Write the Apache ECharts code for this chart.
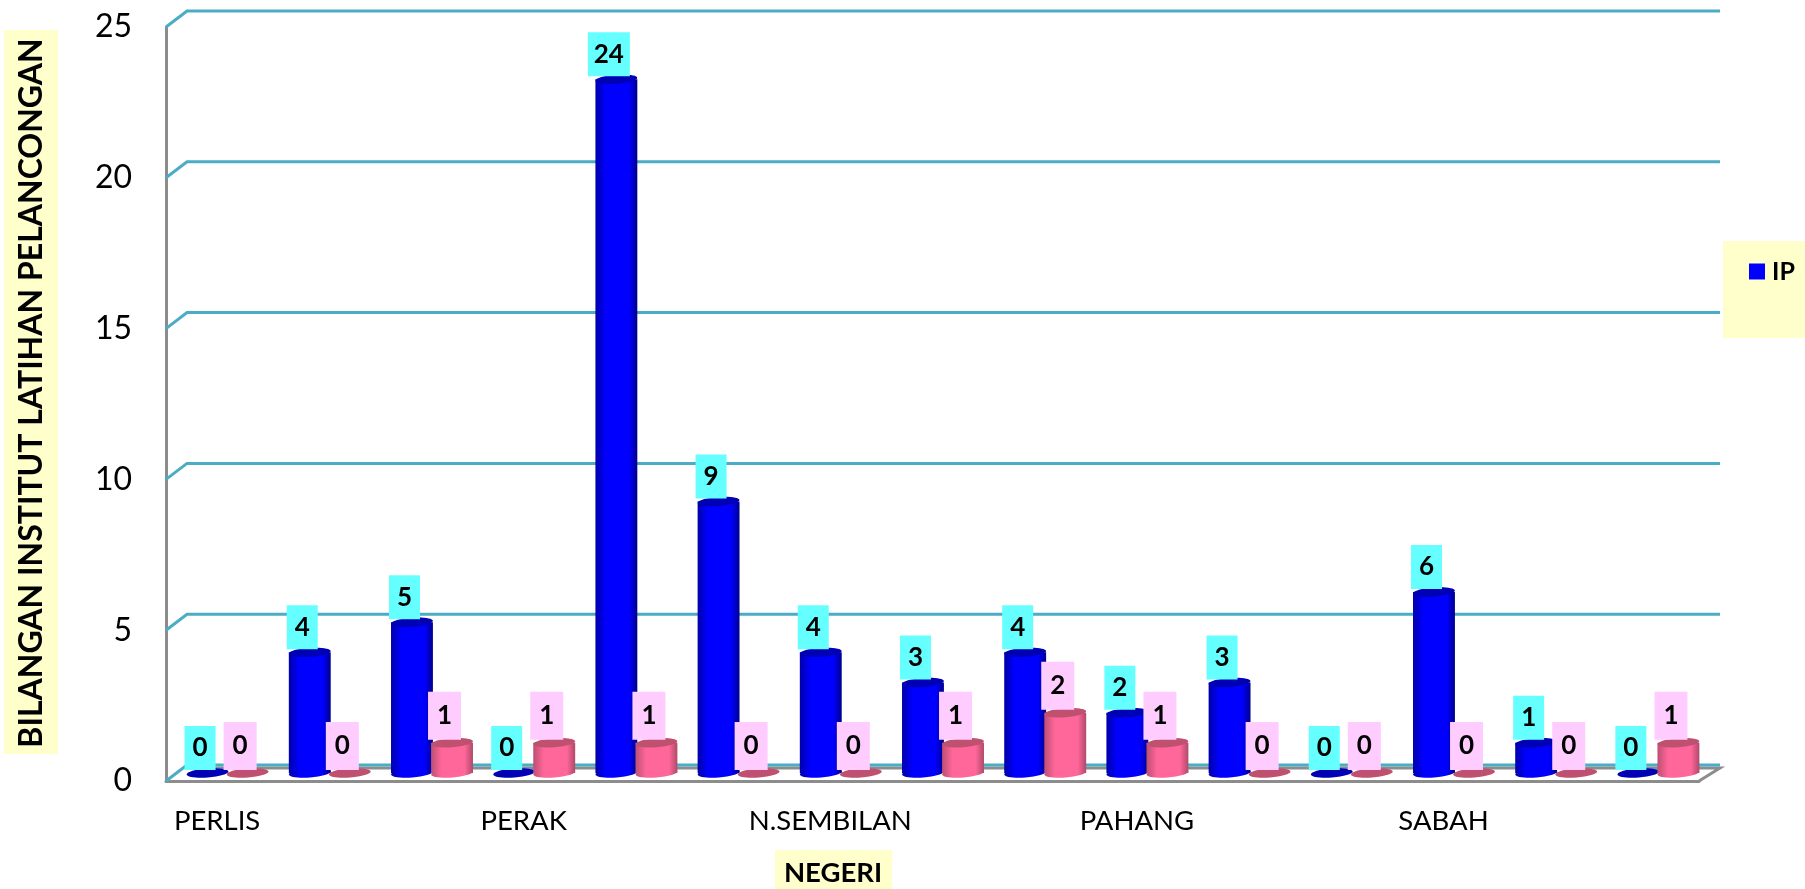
<!DOCTYPE html>
<html>
<head>
<meta charset="utf-8">
<style>
  html, body { margin: 0; background: #fff; }
  #chart { width: 1805px; height: 889px; }
</style>
<script src="https://cdn.jsdelivr.net/npm/echarts@6/dist/echarts.min.js"></script>
</head>
<body>
<div id="chart"></div>
<script>
var categories = ['PERLIS', '', '', 'PERAK', '', '', 'N.SEMBILAN', '', '', 'PAHANG', '', '', 'SABAH', '', ''];
var ipValues = [0, 4, 5, 0, 23, 9, 4, 3, 4, 2, 3, 0, 6, 1, 0];
var ipLabels = ['0', '4', '5', '0', '24', '9', '4', '3', '4', '2', '3', '0', '6', '1', '0'];
var otherValues = [0, 0, 1, 1, 1, 0, 0, 1, 2, 1, 0, 0, 0, 0, 1];
var yTicks = [0, 5, 10, 15, 20, 25];

var FONT = 'Lato, sans-serif';
var DEPTH_X = 21, DEPTH_Y = 16;

var blueBody = new echarts.graphic.LinearGradient(0, 0, 1, 0, [
  { offset: 0, color: '#0000A8' }, { offset: 0.25, color: '#0000FF' },
  { offset: 0.8, color: '#0000FF' }, { offset: 1, color: '#00008C' }
]);
var pinkBody = new echarts.graphic.LinearGradient(0, 0, 1, 0, [
  { offset: 0, color: '#BC4F72' }, { offset: 0.25, color: '#FF6699' },
  { offset: 0.8, color: '#FF6699' }, { offset: 1, color: '#AE4A6A' }
]);

// back wall lines with the diagonal going to the front axis
function renderFrame(params, api) {
  var cs = params.coordSys;
  var y = api.coord([0, api.value(1)])[1];
  var left = cs.x, right = cs.x + cs.width;
  var children = [];
  if (api.value(1) === 0) {
    children.push({
      type: 'polyline',
      shape: { points: [[left + DEPTH_X, y - DEPTH_Y + 3], [right + DEPTH_X, y - DEPTH_Y + 3], [right, y]] },
      style: { fill: null, stroke: '#8C8C8C', lineWidth: 3 }
    });
  }
  children.push({
    type: 'polyline',
    shape: { points: [[left, y], [left + DEPTH_X, y - DEPTH_Y], [right + DEPTH_X, y - DEPTH_Y]] },
    style: { fill: null, stroke: '#4BACC6', lineWidth: 3 }
  });
  return { type: 'group', children: children };
}

function cylinder(opt) {
  return function (params, api) {
    var v = api.value(1);
    var top = api.coord([api.value(0), v]);
    var base = api.coord([api.value(0), 0]);
    var band = api.size([1, 0])[0];
    var rx = band * 0.205;
    var cx = top[0] + opt.side * band * 0.196;
    var tilt = 0.07;
    var children = [];
    if (v > 0) {
      children.push({
        type: 'ellipse', z2: opt.z,
        shape: { cx: cx, cy: base[1], rx: rx, ry: 4.5 }, originX: cx, originY: base[1], rotation: tilt,
        style: { fill: opt.body }
      });
      children.push({
        type: 'rect', z2: opt.z,
        shape: { x: cx - rx, y: top[1], width: rx * 2, height: base[1] - top[1] },
        style: { fill: opt.body }
      });
    }
    children.push({
      type: 'ellipse', z2: opt.z,
      shape: { cx: cx, cy: top[1], rx: rx, ry: 4.5 }, originX: cx, originY: top[1], rotation: tilt,
      style: { fill: opt.cap }
    });
    var text = opt.labels ? opt.labels[params.dataIndex] : String(v);
    var boxW = text.length > 1 ? 42 : opt.boxW;
    var boxX = cx - 7.5 - boxW / 2;
    var boxY = top[1] - 3 - opt.boxH;
    children.push({
      type: 'rect', z2: 20,
      shape: { x: boxX, y: boxY, width: boxW, height: opt.boxH },
      style: { fill: opt.boxFill }
    });
    children.push({
      type: 'text', z2: 21, x: boxX + boxW / 2, y: boxY + opt.boxH / 2,
      style: { text: text, fill: '#000', align: 'center', verticalAlign: 'middle', font: 'bold 26px ' + FONT }
    });
    return { type: 'group', children: children };
  };
}

var chart = echarts.init(document.getElementById('chart'), null, { renderer: 'canvas' });
chart.setOption({
  animation: false,
  backgroundColor: '#fff',
  legend: {
    data: [{ name: 'IP', icon: 'rect', itemStyle: { color: '#0000FF' } }],
    selectedMode: false,
    left: 1723,
    top: 241,
    padding: [18, 10, 54, 26],
    itemWidth: 16,
    itemHeight: 16,
    itemGap: 0,
    backgroundColor: '#FFFFCC',
    textStyle: { fontFamily: FONT, fontWeight: 'bold', fontSize: 25, color: '#000', padding: [0, 0, 0, 2] }
  },
  grid: [
    { left: 166, top: 27, width: 1533, height: 754 },
    { left: 176.5, top: 19, width: 1533, height: 754 }
  ],
  xAxis: [
    {
      type: 'category', gridIndex: 0, data: categories,
      axisLine: { lineStyle: { color: '#8C8C8C', width: 3 } },
      axisTick: { show: false },
      axisLabel: { interval: 0, margin: 26, fontFamily: FONT, fontSize: 27.5, color: '#000' }
    },
    { type: 'category', gridIndex: 1, data: categories, show: false }
  ],
  yAxis: [
    {
      type: 'value', gridIndex: 0, min: 0, max: 25, interval: 5,
      axisLine: { show: true, lineStyle: { color: '#8C8C8C', width: 3 } },
      axisTick: { show: false },
      splitLine: { show: false },
      axisLabel: { margin: 34, fontFamily: FONT, fontSize: 32, color: '#000' }
    },
    { type: 'value', gridIndex: 1, min: 0, max: 25, interval: 5, show: false }
  ],
  graphic: [
    { type: 'rect', left: 4, top: 30, shape: { width: 54, height: 724 }, style: { fill: '#FFFFCC' } },
    {
      type: 'text', x: 32, y: 393, rotation: Math.PI / 2,
      style: { text: 'BILANGAN INSTITUT LATIHAN PELANCONGAN', align: 'center', verticalAlign: 'middle', fill: '#000', font: 'bold 32px ' + FONT }
    },
    { type: 'rect', left: 775, top: 850, shape: { width: 117, height: 39 }, style: { fill: '#FFFFCC' } },
    {
      type: 'text', x: 833, y: 873,
      style: { text: 'NEGERI', align: 'center', verticalAlign: 'middle', fill: '#000', font: 'bold 27.5px ' + FONT }
    }
  ],
  series: [
    {
      name: 'frame', type: 'custom', xAxisIndex: 0, yAxisIndex: 0, clip: false, silent: true,
      data: yTicks.map(function (v) { return [0, v]; }),
      renderItem: renderFrame
    },
    {
      name: 'IP', type: 'custom', xAxisIndex: 1, yAxisIndex: 1, clip: false,
      itemStyle: { color: '#0000FF' },
      data: ipValues.map(function (v, i) { return [i, v]; }),
      renderItem: cylinder({ side: -1, body: blueBody, cap: '#0000B4', boxFill: '#66FFFF', boxW: 31, boxH: 44, labels: ipLabels, z: 1 })
    },
    {
      name: 'Lain', type: 'custom', xAxisIndex: 1, yAxisIndex: 1, clip: false,
      itemStyle: { color: '#FF6699' },
      data: otherValues.map(function (v, i) { return [i, v]; }),
      renderItem: cylinder({ side: 1, body: pinkBody, cap: '#C0506F', boxFill: '#FFCCFF', boxW: 33, boxH: 48, z: 2 })
    }
  ]
});
</script>
</body>
</html>
